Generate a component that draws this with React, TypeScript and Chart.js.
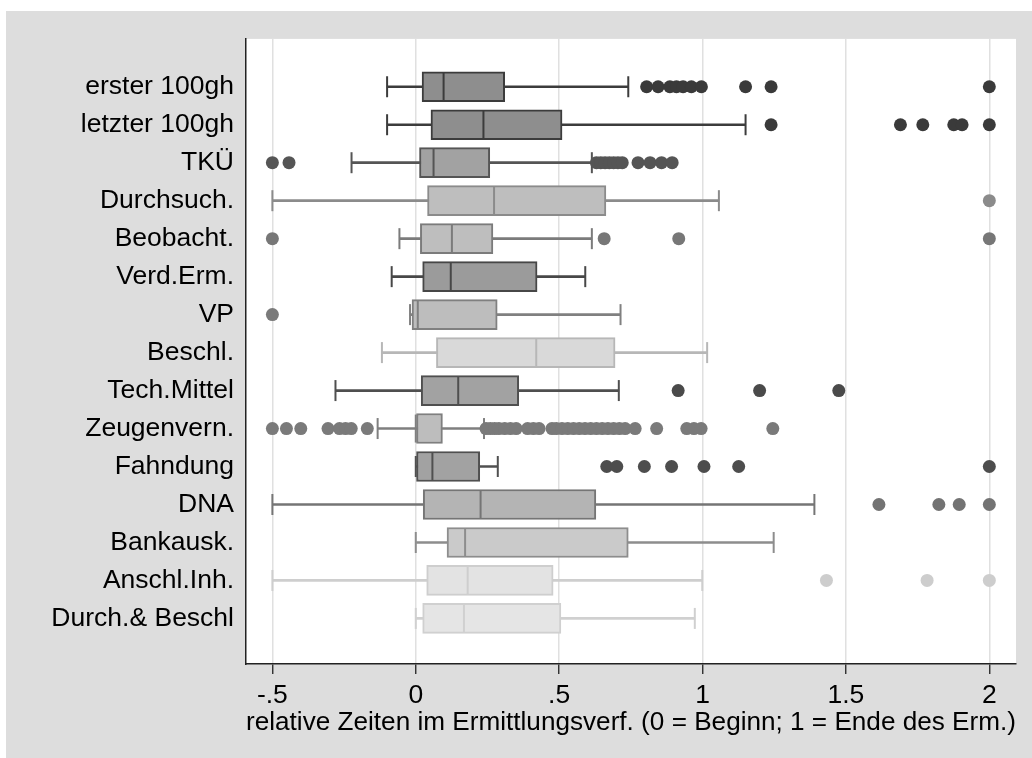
import React, { useEffect, useRef } from "react";
import { Chart, registerables } from "chart.js";

Chart.register(...registerables);

const categories = [
  "erster 100gh",
  "letzter 100gh",
  "TKÜ",
  "Durchsuch.",
  "Beobacht.",
  "Verd.Erm.",
  "VP",
  "Beschl.",
  "Tech.Mittel",
  "Zeugenvern.",
  "Fahndung",
  "DNA",
  "Bankausk.",
  "Anschl.Inh.",
  "Durch.& Beschl",
];

const lowerWhisker = [-0.1, -0.1, -0.224, -0.5, -0.057, -0.084, -0.02, -0.118, -0.28, -0.133, 0, -0.5, 0, -0.5, 0];
const q1 = [0.022, 0.053, 0.013, 0.041, 0.016, 0.024, -0.013, 0.072, 0.019, 0, 0, 0.026, 0.109, 0.038, 0.024];
const median = [0.097, 0.236, 0.062, 0.273, 0.126, 0.122, 0.007, 0.42, 0.148, 0, 0.058, 0.226, 0.172, 0.181, 0.168];
const q3 = [0.31, 0.51, 0.258, 0.663, 0.269, 0.423, 0.284, 0.695, 0.359, 0.093, 0.223, 0.628, 0.741, 0.479, 0.506];
const upperWhisker = [0.741, 1.15, 0.614, 1.057, 0.614, 0.591, 0.714, 1.016, 0.708, 0.238, 0.286, 1.39, 1.248, 0.999, 0.973];

const outliersErster = [0.805, 0.845, 0.886, 0.909, 0.932, 0.961, 0.996, 1.15, 1.239, 2.0];
const outliersLetzter = [1.239, 1.69, 1.768, 1.876, 1.905, 2.0];
const outliersTKUE = [-0.5, -0.442, 0.63, 0.645, 0.66, 0.675, 0.69, 0.705, 0.72, 0.775, 0.817, 0.857, 0.894];
const outliersDurchsuch = [2.0];
const outliersBeobacht = [-0.5, 0.657, 0.917, 2.0];
const outliersVerdErm: number[] = [];
const outliersVP = [-0.5];
const outliersBeschl: number[] = [];
const outliersTechMittel = [0.915, 1.199, 1.475];
const outliersZeugenvern = [
  -0.5, -0.451, -0.401, -0.306, -0.266, -0.245, -0.225, -0.169,
  0.245, 0.26, 0.275, 0.29, 0.31, 0.33, 0.35, 0.39, 0.41, 0.43,
  0.475, 0.49, 0.51, 0.53, 0.55, 0.57, 0.59, 0.61, 0.63, 0.65, 0.67, 0.69, 0.71, 0.73,
  0.765, 0.84, 0.945, 0.97, 0.995, 1.245,
];
const outliersFahndung = [0.666, 0.701, 0.797, 0.892, 1.005, 1.126, 2.0];
const outliersDNA = [1.615, 1.824, 1.895, 2.0];
const outliersBankausk: number[] = [];
const outliersAnschl = [1.432, 1.783, 2.0];
const outliersDurchBeschl: number[] = [];

const outliers = [
  outliersErster, outliersLetzter, outliersTKUE, outliersDurchsuch, outliersBeobacht,
  outliersVerdErm, outliersVP, outliersBeschl, outliersTechMittel, outliersZeugenvern,
  outliersFahndung, outliersDNA, outliersBankausk, outliersAnschl, outliersDurchBeschl,
];

const xTicks = [-0.5, 0, 0.5, 1, 1.5, 2];
const xTickLabels = ["-.5", "0", ".5", "1", "1.5", "2"];
const xTitle = "relative Zeiten im Ermittlungsverf. (0 = Beginn; 1 = Ende des Erm.)";

const boxFill = ["#8e8e8e", "#8e8e8e", "#a2a2a2", "#bebebe", "#bebebe", "#9b9b9b", "#bdbdbd", "#d9d9d9", "#a2a2a2", "#bdbdbd", "#a2a2a2", "#b4b4b4", "#cacaca", "#e3e3e3", "#e5e5e5"];
const lineColor = ["#3c3c3c", "#3c3c3c", "#555555", "#8b8b8b", "#7b7b7b", "#474747", "#808080", "#b7b7b7", "#4f4f4f", "#7f7f7f", "#505050", "#757575", "#8d8d8d", "#cecece", "#d0d0d0"];
const dotColor = ["#3a3a3a", "#3a3a3a", "#555555", "#8b8b8b", "#777777", "#474747", "#7a7a7a", "#b7b7b7", "#4a4a4a", "#7a7a7a", "#4d4d4d", "#737373", "#8d8d8d", "#cdcdcd", "#d0d0d0"];

const FONT = "'Liberation Sans', Arial, Helvetica, sans-serif";
const FONT_SIZE = 26.5;

export default function App() {
  const ref = useRef<HTMLCanvasElement>(null);

  useEffect(() => {
    if (!ref.current) return;
    const rows = categories.map((_, i) => i + 1);

    const bgPlugin = {
      id: "bg",
      beforeDraw(chart: any) {
        const { ctx, chartArea: a, width, height } = chart;
        ctx.save();
        ctx.fillStyle = "#dddddd";
        ctx.fillRect(0, 0, width, height);
        ctx.fillStyle = "#ffffff";
        ctx.fillRect(a.left, a.top, a.right - a.left, a.bottom - a.top);
        ctx.restore();
      },
    };

    const datasets: any[] = [
      {
        type: "bar",
        indexAxis: "y",
        grouped: false,
        order: 4,
        data: rows.map((r, i) => ({ x: [lowerWhisker[i], upperWhisker[i]], y: r })),
        backgroundColor: lineColor,
        borderWidth: 0,
        barThickness: 2,
      },
      {
        type: "bar",
        indexAxis: "y",
        grouped: false,
        order: 3,
        data: rows.map((r, i) => ({ x: [q1[i], q3[i]], y: r })),
        backgroundColor: boxFill,
        borderColor: lineColor,
        borderWidth: 2,
        borderSkipped: false,
        barThickness: 30,
      },
      {
        type: "scatter",
        order: 2,
        data: rows.map((r, i) => ({ x: median[i], y: r })),
        pointStyle: "line",
        pointRotation: 90,
        pointRadius: 14,
        pointBorderWidth: 2,
        pointBorderColor: lineColor,
      },
      {
        type: "scatter",
        order: 2,
        data: rows.flatMap((r, i) => [
          { x: lowerWhisker[i], y: r },
          { x: upperWhisker[i], y: r },
        ]),
        pointStyle: "line",
        pointRotation: 90,
        pointRadius: 10.5,
        pointBorderWidth: 2,
        pointBorderColor: rows.flatMap((_, i) => [lineColor[i], lineColor[i]]),
      },
      ...outliers.map((pts, i) => ({
        type: "scatter",
        order: 1,
        data: pts.map((v) => ({ x: v, y: i + 1 })),
        pointStyle: "circle",
        pointRadius: 6.5,
        pointBackgroundColor: dotColor[i],
        pointBorderWidth: 0,
      })),
    ];

    const chart = new Chart(ref.current, {
      type: "scatter",
      data: { datasets },
      options: {
        responsive: false,
        animation: false,
        devicePixelRatio: 1,
        events: [],
        layout: { padding: { left: 0, right: 13, top: 26, bottom: 0 } },
        plugins: { legend: { display: false }, tooltip: { enabled: false } },
        scales: {
          x: {
            type: "linear",
            min: -0.592,
            max: 2.093,
            offset: false,
            afterBuildTicks: (s: any) => {
              s.ticks = xTicks.map((v) => ({ value: v }));
            },
            afterFit: (s: any) => {
              s.height = 94;
            },
            ticks: {
              callback: (_v: any, idx: number) => xTickLabels[idx],
              font: { family: FONT, size: FONT_SIZE },
              color: "#000",
              padding: 6,
              maxRotation: 0,
              autoSkip: false,
            },
            grid: {
              color: "#e0e0e0",
              lineWidth: 1.5,
              tickColor: "#222",
              tickWidth: 1.3,
              tickLength: 10,
              drawTicks: true,
              offset: false,
            },
            border: { display: true, color: "#222", width: 1.5 },
            title: {
              display: true,
              text: xTitle,
              font: { family: FONT, size: FONT_SIZE },
              color: "#000",
              padding: { top: 0, bottom: 19 },
            },
          },
          y: {
            type: "linear",
            reverse: true,
            min: -0.26,
            max: 16.2,
            offset: false,
            afterBuildTicks: (s: any) => {
              s.ticks = rows.map((v) => ({ value: v }));
            },
            afterFit: (s: any) => {
              s.width = 240;
            },
            ticks: {
              callback: (_v: any, idx: number) => categories[idx],
              font: { family: FONT, size: FONT_SIZE },
              color: "#000",
              padding: 12,
              autoSkip: false,
            },
            grid: { display: false, drawTicks: false },
            border: { display: true, color: "#222", width: 1.5 },
          },
        },
      },
      plugins: [bgPlugin],
    } as any);

    return () => chart.destroy();
  }, []);

  return (
    <div style={{ position: "absolute", left: 6, top: 11, width: 1026, height: 747 }}>
      <canvas ref={ref} width={1026} height={747} style={{ display: "block" }} />
    </div>
  );
}
